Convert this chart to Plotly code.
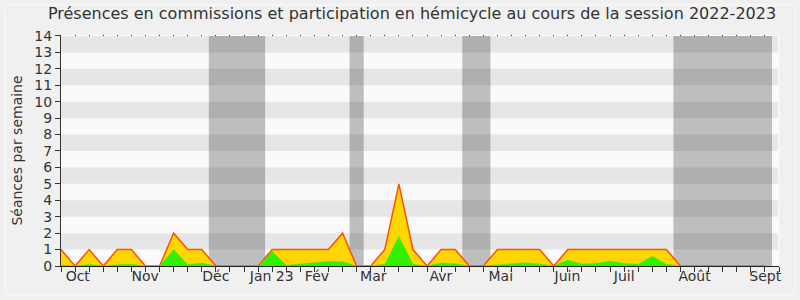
import plotly.graph_objects as go

# ---- data ----
weeks = list(range(51))
presences = [1, 0, 1, 0, 1, 1, 0, 0, 2, 1, 1, 0, 0, 0, 0, 1, 1, 1, 1, 1, 2, 0, 0, 1, 5, 1, 0, 1, 1, 0,
             0, 1, 1, 1, 1, 0, 1, 1, 1, 1, 1, 1, 1, 1, 0, 0, 0, 0, 0, 0, 0]
hemicycle = [0.04, 0, 0.1, 0, 0.08, 0.1, 0, 0, 1.0, 0.08, 0.18, 0, 0, 0, 0, 0.88, 0.04, 0.12, 0.2, 0.28,
             0.26, 0, 0, 0.1, 1.8, 0.1, 0, 0.18, 0.14, 0, 0, 0.08, 0.16, 0.2, 0.12, 0, 0.36, 0.12, 0.15,
             0.3, 0.15, 0.1, 0.6, 0.1, 0, 0, 0, 0, 0, 0, 0]
vacances = [(10.5, 14.5), (20.5, 21.5), (28.5, 30.5), (43.5, 50.5)]
month_labels = ["Oct", "Nov", "Déc", "Jan 23", "Fév", "Mar", "Avr", "Mai", "Juin", "Juil", "Août", "Sept"]
month_pos = [1.19, 5.98, 11.0, 14.97, 18.18, 22.18, 26.98, 31.24, 35.97, 40.0, 45.0, 50.02]
y_max = 14

W, H = 800, 300
ML, MR, MT, MB = 61, 21, 35, 34
FONT = "DejaVu Sans"
TXT = "#333333"

fig = go.Figure()

fig.add_trace(go.Scatter(
    x=weeks, y=presences, mode="lines", fill="tozeroy",
    fillcolor="rgb(255,214,0)", line=dict(color="rgb(255,80,0)", width=1.5),
    hoverinfo="skip", showlegend=False))
fig.add_trace(go.Scatter(
    x=weeks, y=hemicycle, mode="lines", fill="tozeroy",
    fillcolor="rgb(50,240,0)", line=dict(color="rgb(50,240,0)", width=0.5),
    hoverinfo="skip", showlegend=False))
# invisible trace on overlay axis for month labels
fig.add_trace(go.Scatter(x=[weeks[0]], y=[0], xaxis="x2", mode="markers",
                         marker=dict(opacity=0), hoverinfo="skip", showlegend=False))

shapes = [dict(type="rect", xref="x", yref="y", x0=0, x1=50.93, y0=0, y1=y_max,
               fillcolor="#fafafa", line=dict(width=0), layer="between")]
for a, b in vacances:
    shapes.append(dict(type="rect", xref="x", yref="y", x0=a, x1=b, y0=0, y1=y_max,
                       fillcolor="#bebebe", line=dict(width=0), layer="between"))
for k in range(1, y_max, 2):
    shapes.append(dict(type="rect", xref="x", yref="y", x0=0, x1=50.93, y0=k, y1=k + 1,
                       fillcolor="rgba(0,0,0,0.08)", line=dict(width=0), layer="between"))

# rounded border of the whole picture (paper coords)
pw = W - ML - MR
ph = H - MT - MB
def px(xp):
    return (xp - ML) / pw
def py(yp):
    return 1 - (yp - MT) / ph
r = 6
x0, x1, y0, y1 = 5, 795, 5, 295
path = (f"M {px(x0 + r)},{py(y0)} L {px(x1 - r)},{py(y0)} Q {px(x1)},{py(y0)} {px(x1)},{py(y0 + r)} "
        f"L {px(x1)},{py(y1 - r)} Q {px(x1)},{py(y1)} {px(x1 - r)},{py(y1)} "
        f"L {px(x0 + r)},{py(y1)} Q {px(x0)},{py(y1)} {px(x0)},{py(y1 - r)} "
        f"L {px(x0)},{py(y0 + r)} Q {px(x0)},{py(y0)} {px(x0 + r)},{py(y0)} Z")
shapes.append(dict(type="path", xref="paper", yref="paper", path=path,
                   line=dict(color="#fbfbfb", width=1), layer="below"))

fig.update_layout(
    width=W, height=H,
    margin=dict(l=ML, r=MR, t=MT, b=MB, pad=0),
    paper_bgcolor="#f0f0f0", plot_bgcolor="#fcfcfc",
    font=dict(family=FONT, size=14, color=TXT),
    title=dict(text="Présences en commissions et participation en hémicycle au cours de la session 2022-2023",
               x=0.515, xanchor="center", y=1 - 13 / H, yanchor="middle",
               font=dict(family=FONT, size=16, color=TXT)),
    shapes=shapes,
    xaxis=dict(range=[0, 51], tickmode="array", tickvals=weeks + [51], showticklabels=False,
               ticks="outside", ticklen=5, tickcolor="#333", tickwidth=1,
               showgrid=True, gridcolor="#333", griddash="dot", gridwidth=1,
               showline=True, linecolor="#222", linewidth=1, zeroline=False, mirror=False),
    xaxis2=dict(range=[0, 51], overlaying="x", side="bottom", anchor="y",
                tickmode="array", tickvals=month_pos, ticktext=month_labels,
                ticks="", showgrid=False, showline=False, zeroline=False,
                tickfont=dict(family=FONT, size=14, color=TXT)),
    yaxis=dict(range=[0, y_max + 0.06], tickmode="array", tickvals=list(range(0, y_max + 1)),
               ticks="outside", ticklen=5, tickcolor="#333", showgrid=False, zeroline=False,
               showline=True, linecolor="#333", linewidth=1,
               tickfont=dict(family=FONT, size=14, color=TXT),
               title=dict(text="Séances par semaine", standoff=8,
                          font=dict(family=FONT, size=14, color=TXT))),
)

fig.write_html("out.html")
